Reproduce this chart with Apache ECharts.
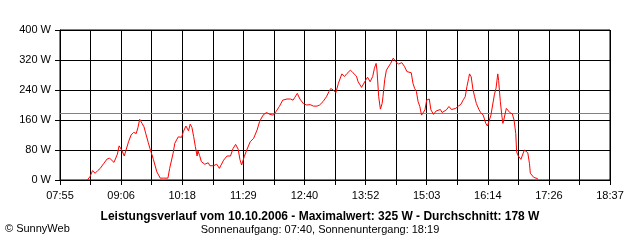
<!DOCTYPE html>
<html>
<head>
<meta charset="utf-8">
<script src="https://cdn.jsdelivr.net/npm/echarts@6/dist/echarts.min.js"></script>
<style>
html,body{margin:0;padding:0;background:#fff;}
#c{width:640px;height:240px;}
</style>
</head>
<body>
<div id="c"></div>
<script>
// Time of day (HH:MM) and power (W)
var times = ["08:27","08:30","08:33","08:36","08:39","08:42","08:46","08:50","08:53","08:58",
"09:02","09:04","09:07","09:10","09:15","09:18","09:21","09:24","09:26","09:28",
"09:31","09:33","09:35","09:38","09:40","09:44","09:48","09:52","09:56","10:01",
"10:03","10:07","10:09","10:13","10:17","10:19","10:22","10:25","10:27","10:29",
"10:31","10:33","10:35","10:36","10:38","10:40","10:44","10:48","10:50","10:54",
"10:58","11:01","11:06","11:10","11:14","11:17","11:20","11:23","11:25","11:27",
"11:30","11:33","11:37","11:41","11:45","11:48","11:52","11:56","12:00","12:04",
"12:07","12:11","12:15","12:20","12:24","12:27","12:29","12:32","12:35","12:39",
"12:43","12:47","12:51","12:55","12:58","13:02","13:06","13:09","13:11","13:14",
"13:17","13:20","13:24","13:27","13:30","13:34","13:37","13:41","13:43","13:47",
"13:49","13:52","13:54","13:57","14:00","14:02","14:04","14:05","14:07","14:09",
"14:11","14:12","14:14","14:16","14:19","14:21","14:24","14:27","14:30","14:34",
"14:37","14:40","14:42","14:45","14:47","14:49","14:51","14:53","14:55","14:57",
"14:59","15:01","15:03","15:06","15:08","15:11","15:14","15:16","15:19","15:21",
"15:23","15:26","15:29","15:32","15:34","15:37","15:40","15:43","15:46","15:48",
"15:50","15:52","15:53","15:55","15:57","15:59","16:01","16:04","16:06","16:09",
"16:12","16:14","16:16","16:18","16:20","16:22","16:24","16:26","16:27","16:29",
"16:31","16:32","16:33","16:36","16:38","16:40","16:43","16:45","16:47","16:48",
"16:50","16:53","16:55","16:57","16:59","17:01","17:03","17:04","17:08","17:12","17:13"];
var watts = [0,9,25,18,25,31,44,56,58,47,
69,91,80,64,102,120,127,124,140,162,
150,142,125,100,84,55,22,5,5,5,
31,71,98,115,114,129,144,131,149,140,
116,89,64,78,65,49,42,46,38,38,
42,31,53,64,64,84,95,82,55,40,
62,80,102,111,133,156,173,180,175,173,
182,196,213,216,216,213,220,231,216,204,
200,201,197,197,200,209,222,236,244,240,
233,258,283,276,284,293,286,277,262,247,
250,267,274,262,276,298,311,293,222,189,
204,222,267,293,304,311,325,316,309,313,
303,289,288,286,258,244,236,209,196,173,
176,187,213,216,187,175,184,184,188,180,
176,187,196,188,184,191,197,202,215,222,
249,271,283,275,242,222,204,188,180,173,
151,144,146,173,200,227,245,283,265,209,
167,151,160,191,189,180,176,160,124,75,
64,55,60,80,84,73,44,18,7,4,2];
var xTickLabels = ["07:55","09:06","10:18","11:29","12:40","13:52","15:03","16:14","17:26","18:37"];
var yTicks = [0,80,160,240,320,400];
var average = 178;
var titleText = "Leistungsverlauf vom 10.10.2006 - Maximalwert: 325 W - Durchschnitt: 178 W";
var subText = "Sonnenaufgang: 07:40, Sonnenuntergang: 18:19";
var creditText = "\u00A9 SunnyWeb";

function toMin(s){var p=s.split(":");return (+p[0])*60+(+p[1]);}
var start = toMin(xTickLabels[0]);
var end = toMin(xTickLabels[xTickLabels.length-1]);
var span = end - start;
var step = span / ((xTickLabels.length-1)*2);
var data = times.map(function(t,i){return [toMin(t)-start, watts[i]];});

var font = "Liberation Sans";
var chart = echarts.init(document.getElementById('c'), null, {renderer:'canvas'});
chart.setOption({
  animation:false,
  backgroundColor:'#fff',
  grid:{left:60,top:30,right:30,bottom:60,show:true,borderColor:'#000',borderWidth:1,backgroundColor:'transparent'},
  xAxis:{
    type:'value',min:0,max:span,interval:step,
    axisLine:{show:true,lineStyle:{color:'#000',width:1}},
    axisTick:{show:true,length:5,lineStyle:{color:'#000'}},
    splitLine:{show:true,lineStyle:{color:'#000',width:1}},
    axisLabel:{color:'#000',fontFamily:font,fontSize:11,margin:10,showMinLabel:true,showMaxLabel:true,
      formatter:function(v){var k=v/step;var r=Math.round(k);if(Math.abs(k-r)>0.01||r%2!==0)return '';return xTickLabels[r/2];}}
  },
  yAxis:{
    type:'value',min:yTicks[0],max:yTicks[yTicks.length-1],interval:yTicks[1]-yTicks[0],
    axisLine:{show:true,lineStyle:{color:'#000',width:1}},
    axisTick:{show:true,length:5,lineStyle:{color:'#000'}},
    splitLine:{show:true,lineStyle:{color:'#000',width:1}},
    axisLabel:{color:'#000',fontFamily:font,fontSize:11,margin:9,formatter:'{value} W'}
  },
  series:[{
    type:'line',data:data,showSymbol:false,symbol:'none',
    lineStyle:{color:'#ff0000',width:1},
    markLine:{silent:true,symbol:'none',label:{show:false},
      lineStyle:{color:'#808080',width:1,type:'solid'},
      data:[{yAxis:average}]},
    z:5
  }],
  graphic:[
    {type:'text',left:'center',top:211,style:{text:titleText,font:'bold 12px "Liberation Sans"',fill:'#000'}},
    {type:'text',left:'center',top:224,style:{text:subText,font:'11px "Liberation Sans"',fill:'#000'}},
    {type:'text',left:5,top:223,style:{text:creditText,font:'11px "Liberation Sans"',fill:'#000'}}
  ]
});
</script>
</body>
</html>
